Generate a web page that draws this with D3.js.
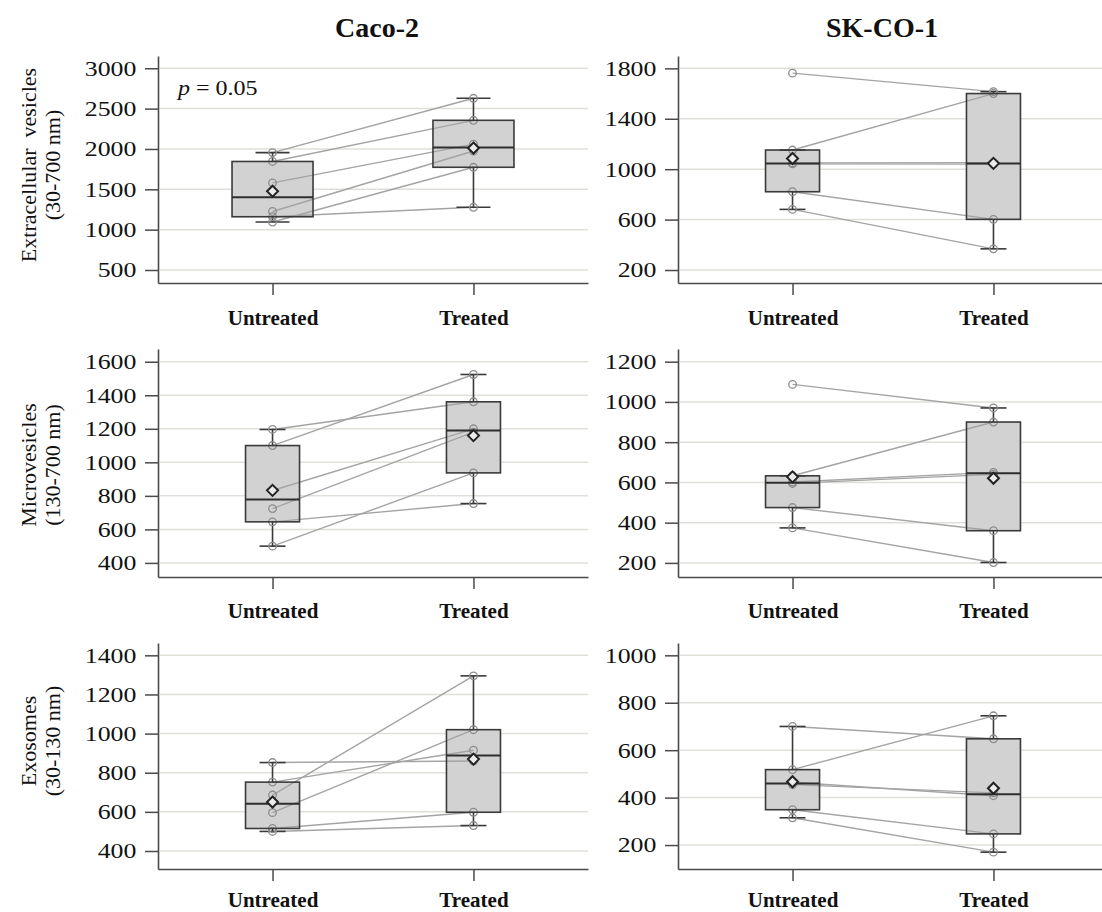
<!DOCTYPE html>
<html><head><meta charset="utf-8">
<script src="https://cdn.jsdelivr.net/npm/d3@7"></script>
<style>
body{margin:0;background:#fff;}
svg{display:block;}
text{font-family:"Liberation Serif","Times New Roman",serif;fill:#111;}
</style>
</head><body>
<svg id="chart" width="1102" height="912"></svg>
<script>
// ---------------- DATA ----------------
const categories = ["Untreated", "Treated"];
const cellLines = ["Caco-2", "SK-CO-1"];
const rowLabels = [
  ["Extracellular  vesicles", "(30-700 nm)"],
  ["Microvesicles", "(130-700 nm)"],
  ["Exosomes", "(30-130 nm)"]
];
// paired samples: element i of Untreated is linked to element i of Treated
const cacoEVUntreated = [1955, 1845, 1580, 1225, 1160, 1095];
const cacoEVTreated   = [2628, 2355, 2060, 1975, 1277, 1773];
const skcoEVUntreated = [1762, 1152, 1050, 1042, 821, 681];
const skcoEVTreated   = [1615, 1600, 1052, 1040, 602, 368];
const cacoMVUntreated = [1196, 1100, 832, 724, 645, 500];
const cacoMVTreated   = [1361, 1524, 1200, 1180, 754, 937];
const skcoMVUntreated = [1087, 633, 602, 595, 475, 374];
const skcoMVTreated   = [970, 900, 650, 640, 360, 202];
const cacoExoUntreated = [852, 752, 686, 596, 515, 500];
const cacoExoTreated   = [860, 915, 1295, 1020, 598, 530];
const skcoExoUntreated = [700, 518, 465, 455, 349, 315];
const skcoExoTreated   = [648, 745, 408, 420, 247, 170];

const yDomains = [[339, 3152], [97, 1898], [316, 1676], [130, 1263], [308, 1463], [99, 1052]];
const yTickValues = [
  [500, 1000, 1500, 2000, 2500, 3000],
  [200, 600, 1000, 1400, 1800],
  [400, 600, 800, 1000, 1200, 1400, 1600],
  [200, 400, 600, 800, 1000, 1200],
  [400, 600, 800, 1000, 1200, 1400],
  [200, 400, 600, 800, 1000]
];
const pValueText = ["p", " = 0.05"];

const panelData = [
  [cacoEVUntreated, cacoEVTreated], [skcoEVUntreated, skcoEVTreated],
  [cacoMVUntreated, cacoMVTreated], [skcoMVUntreated, skcoMVTreated],
  [cacoExoUntreated, cacoExoTreated], [skcoExoUntreated, skcoExoTreated]
];

// ---------------- LAYOUT ----------------
const colX = [158, 678];
const plotW = 430;
const rowY = [[56, 283], [349, 577], [643, 869]];
const catLabelDY = [42, 41, 38];
const boxW = [81, 54, 54, 54, 54, 54];
const capW = [34, 26, 26, 26, 26, 26];
const titleX = [377, 882];
const rowLabelCY = [165, 465, 741];

const svg = d3.select("#chart");

function q5(s, p) {
  const n = s.length, np = n * p, j = Math.floor(np), g = np - j;
  return g === 0 ? (s[j - 1] + s[j]) / 2 : s[j];
}
function stats(vals) {
  const s = vals.slice().sort((a, b) => a - b);
  const q1 = q5(s, 0.25), med = q5(s, 0.5), q3 = q5(s, 0.75);
  const iqr = q3 - q1;
  const lo = d3.min(s.filter(v => v >= q1 - 1.5 * iqr));
  const hi = d3.max(s.filter(v => v <= q3 + 1.5 * iqr));
  return {q1, med, q3, lo, hi, mean: d3.mean(s)};
}

// titles
cellLines.forEach((t, i) => {
  svg.append("text").attr("x", titleX[i]).attr("y", 37)
    .attr("text-anchor", "middle").attr("font-weight", "bold")
    .attr("font-size", 28).text(t);
});

// row labels
rowLabels.forEach((lab, r) => {
  [36, 60].forEach((bx, k) => {
    svg.append("text")
      .attr("transform", `translate(${bx},${rowLabelCY[r]}) rotate(-90)`)
      .attr("text-anchor", "middle").attr("font-size", 22)
      .style("white-space", "pre").attr("fill", "#222")
      .text(lab[k]);
  });
});

panelData.forEach((pair, idx) => {
  const r = Math.floor(idx / 2), c = idx % 2;
  const x0 = colX[c], [yTop, yBot] = [rowY[r][0], rowY[r][1]];
  const x = d3.scalePoint().domain(categories).range([x0, x0 + plotW]).padding(0.57);
  const y = d3.scaleLinear().domain(yDomains[idx]).range([yBot, yTop]);
  const g = svg.append("g");

  // gridlines
  g.append("g").selectAll("line").data(yTickValues[idx]).join("line")
    .attr("x1", x0 + 2).attr("x2", x0 + plotW)
    .attr("y1", d => y(d)).attr("y2", d => y(d))
    .attr("stroke", "#e0e0da").attr("stroke-width", 1.5);

  const st = pair.map(stats);

  // box fills
  g.append("g").selectAll("rect").data(st).join("rect")
    .attr("x", (d, i) => x(categories[i]) - boxW[idx] / 2)
    .attr("width", boxW[idx])
    .attr("y", d => y(d.q3)).attr("height", d => y(d.q1) - y(d.q3))
    .attr("fill", "#d2d2d2").attr("stroke", "none");

  // paired lines
  g.append("g").selectAll("line").data(pair[0].map((v, i) => [v, pair[1][i]])).join("line")
    .attr("x1", x(categories[0])).attr("x2", x(categories[1]))
    .attr("y1", d => y(d[0])).attr("y2", d => y(d[1]))
    .attr("stroke", "#a4a4a4").attr("stroke-width", 1.4);

  // whiskers + caps
  st.forEach((d, i) => {
    const cx = x(categories[i]);
    const wg = g.append("g").attr("stroke", "#3a3a3a").attr("stroke-width", 1.6);
    wg.append("line").attr("x1", cx).attr("x2", cx).attr("y1", y(d.q3)).attr("y2", y(d.hi));
    wg.append("line").attr("x1", cx).attr("x2", cx).attr("y1", y(d.q1)).attr("y2", y(d.lo));
    [d.hi, d.lo].forEach(v => wg.append("line")
      .attr("x1", cx - capW[idx] / 2).attr("x2", cx + capW[idx] / 2)
      .attr("y1", y(v)).attr("y2", y(v)));
  });

  // points
  pair.forEach((vals, i) => {
    g.append("g").selectAll("circle").data(vals).join("circle")
      .attr("cx", x(categories[i])).attr("cy", d => y(d)).attr("r", 3.8)
      .attr("fill", "none").attr("stroke", "#8c8c8c").attr("stroke-width", 1.3);
  });

  // box outline + median + mean
  st.forEach((d, i) => {
    const cx = x(categories[i]);
    g.append("rect").attr("x", cx - boxW[idx] / 2).attr("width", boxW[idx])
      .attr("y", y(d.q3)).attr("height", y(d.q1) - y(d.q3))
      .attr("fill", "none").attr("stroke", "#3a3a3a").attr("stroke-width", 1.6);
    g.append("line").attr("x1", cx - boxW[idx] / 2).attr("x2", cx + boxW[idx] / 2)
      .attr("y1", y(d.med)).attr("y2", y(d.med))
      .attr("stroke", "#2e2e2e").attr("stroke-width", 2);
    const h = 5.5;
    g.append("path")
      .attr("d", `M${cx},${y(d.mean) - h}L${cx + h},${y(d.mean)}L${cx},${y(d.mean) + h}L${cx - h},${y(d.mean)}Z`)
      .attr("fill", "#ececec").attr("stroke", "#222").attr("stroke-width", 2);
  });

  // y axis
  const ya = g.append("g").attr("transform", `translate(${x0},0)`)
    .call(d3.axisLeft(y).tickValues(yTickValues[idx]).tickSize(13).tickSizeOuter(0).tickFormat(d3.format("d")));
  ya.select(".domain").attr("stroke", "#4a4a4a").attr("stroke-width", 1.6);
  ya.selectAll(".tick line").attr("stroke", "#4a4a4a").attr("stroke-width", 1.5);
  ya.selectAll(".tick text").attr("font-family", null).attr("font-size", 21.5)
    .attr("x", -18).attr("transform", "scale(1.2,1)").attr("fill", "#111");

  // x axis
  const xa = g.append("g").attr("transform", `translate(0,${yBot})`)
    .call(d3.axisBottom(x).tickSize(12).tickSizeOuter(0));
  xa.select(".domain").attr("stroke", "#4a4a4a").attr("stroke-width", 1.6);
  xa.selectAll(".tick line").attr("stroke", "#4a4a4a").attr("stroke-width", 1.5);
  xa.selectAll(".tick text").attr("font-family", null).attr("font-size", 21)
    .attr("font-weight", "bold").attr("y", catLabelDY[r]).attr("dy", 0).attr("fill", "#111");

  if (idx === 0) {
    const t = g.append("text").attr("transform", `translate(178,95) scale(1.2,1)`)
      .attr("font-size", 20).style("white-space", "pre");
    t.append("tspan").attr("font-style", "italic").text(pValueText[0]);
    t.append("tspan").text(pValueText[1]);
  }
});
</script>
</body></html>
